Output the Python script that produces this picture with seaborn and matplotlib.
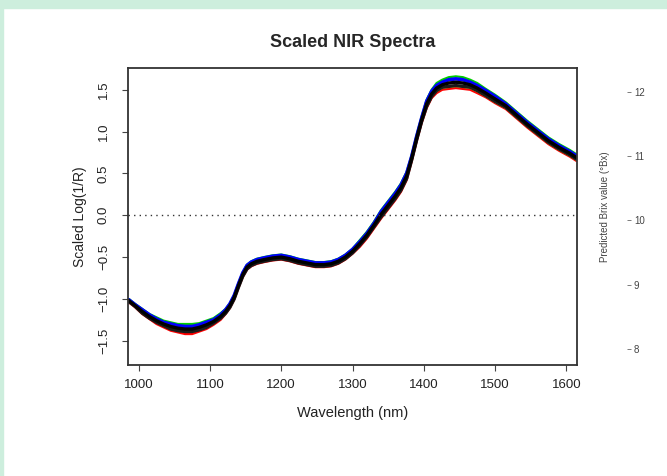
import matplotlib
matplotlib.use("Agg")
import numpy as np
import pandas as pd
import matplotlib.pyplot as plt
import seaborn as sns
from matplotlib.patches import Rectangle

# wavelengths (nm) and a few scaled spectra
wavelength = [986, 995, 1005, 1015, 1025, 1035, 1045, 1055, 1065, 1075,
              1085, 1095, 1105, 1115, 1122, 1128, 1134, 1140, 1146, 1152,
              1158, 1166, 1176, 1188, 1200, 1212, 1224, 1236, 1248, 1260,
              1270, 1280, 1290, 1300, 1310, 1320, 1330, 1340, 1350, 1360,
              1368, 1376, 1383, 1390, 1397, 1404, 1411, 1418, 1426, 1435,
              1445, 1455, 1465, 1475, 1487, 1500, 1515, 1530, 1545, 1560,
              1575, 1590, 1605, 1614]

spec_upper = [-1.00, -1.06, -1.12, -1.18, -1.22, -1.26, -1.28, -1.30, -1.30, -1.30,
              -1.29, -1.26, -1.23, -1.17, -1.12, -1.05, -0.95, -0.81, -0.68, -0.59,
              -0.55, -0.52, -0.50, -0.48, -0.47, -0.49, -0.52, -0.54, -0.56, -0.56,
              -0.55, -0.52, -0.47, -0.40, -0.30, -0.20, -0.08, 0.06, 0.17, 0.28,
              0.38, 0.52, 0.72, 0.96, 1.18, 1.38, 1.50, 1.58, 1.62, 1.65,
              1.66, 1.65, 1.62, 1.58, 1.51, 1.44, 1.35, 1.24, 1.13, 1.03,
              0.93, 0.85, 0.78, 0.73]
spec_lower = [-1.04, -1.10, -1.18, -1.24, -1.30, -1.34, -1.38, -1.40, -1.42, -1.42,
              -1.39, -1.36, -1.31, -1.25, -1.18, -1.11, -1.01, -0.87, -0.74, -0.65,
              -0.61, -0.58, -0.56, -0.54, -0.53, -0.55, -0.58, -0.60, -0.62, -0.62,
              -0.61, -0.58, -0.53, -0.46, -0.38, -0.28, -0.16, -0.04, 0.07, 0.18,
              0.28, 0.42, 0.64, 0.88, 1.10, 1.28, 1.40, 1.46, 1.50, 1.51,
              1.52, 1.51, 1.50, 1.46, 1.41, 1.34, 1.27, 1.16, 1.05, 0.95,
              0.85, 0.77, 0.70, 0.65]
spec_cross = [-1.01, -1.07, -1.13, -1.19, -1.24, -1.28, -1.30, -1.32, -1.33, -1.33,
              -1.31, -1.28, -1.25, -1.19, -1.13, -1.06, -0.96, -0.82, -0.69, -0.60,
              -0.57, -0.54, -0.52, -0.50, -0.49, -0.51, -0.54, -0.56, -0.58, -0.58,
              -0.58, -0.56, -0.51, -0.44, -0.36, -0.26, -0.14, -0.02, 0.09, 0.20,
              0.30, 0.44, 0.66, 0.90, 1.12, 1.30, 1.42, 1.48, 1.52, 1.53,
              1.54, 1.53, 1.52, 1.48, 1.42, 1.35, 1.28, 1.17, 1.06, 0.96,
              0.86, 0.78, 0.71, 0.66]
spec_mid_up = [-1.01, -1.07, -1.13, -1.19, -1.24, -1.28, -1.30, -1.32, -1.33, -1.33,
               -1.31, -1.28, -1.25, -1.19, -1.13, -1.06, -0.96, -0.82, -0.69, -0.60,
               -0.56, -0.53, -0.51, -0.49, -0.48, -0.50, -0.53, -0.55, -0.57, -0.57,
               -0.56, -0.53, -0.48, -0.41, -0.32, -0.22, -0.10, 0.04, 0.15, 0.26,
               0.36, 0.50, 0.70, 0.94, 1.16, 1.36, 1.48, 1.55, 1.59, 1.62,
               1.63, 1.62, 1.59, 1.55, 1.49, 1.42, 1.33, 1.22, 1.11, 1.01,
               0.91, 0.83, 0.76, 0.71]
spec_mid_low = [-1.03, -1.09, -1.17, -1.23, -1.28, -1.32, -1.36, -1.38, -1.39, -1.39,
                -1.37, -1.34, -1.29, -1.23, -1.17, -1.10, -1.00, -0.86, -0.73, -0.64,
                -0.60, -0.57, -0.55, -0.53, -0.52, -0.54, -0.57, -0.59, -0.61, -0.61,
                -0.60, -0.57, -0.52, -0.45, -0.36, -0.26, -0.14, -0.02, 0.09, 0.20,
                0.30, 0.44, 0.66, 0.90, 1.12, 1.30, 1.42, 1.49, 1.53, 1.54,
                1.55, 1.54, 1.53, 1.49, 1.43, 1.36, 1.29, 1.18, 1.07, 0.97,
                0.87, 0.79, 0.72, 0.67]
spec_center = [-1.02, -1.08, -1.15, -1.21, -1.26, -1.30, -1.33, -1.35, -1.36, -1.36,
               -1.34, -1.31, -1.27, -1.21, -1.15, -1.08, -0.98, -0.84, -0.71, -0.62,
               -0.58, -0.55, -0.53, -0.51, -0.50, -0.52, -0.55, -0.57, -0.59, -0.59,
               -0.58, -0.55, -0.50, -0.43, -0.34, -0.24, -0.12, 0.01, 0.12, 0.23,
               0.33, 0.47, 0.68, 0.92, 1.14, 1.33, 1.45, 1.52, 1.56, 1.58,
               1.59, 1.58, 1.56, 1.52, 1.46, 1.39, 1.31, 1.20, 1.09, 0.99,
               0.89, 0.81, 0.74, 0.69]

samples = {"upper": spec_upper, "lower": spec_lower, "cross": spec_cross,
           "mid_up": spec_mid_up, "mid_low": spec_mid_low, "center": spec_center}
# R default palette colours, drawn in this order
order = ["lower", "upper", "cross", "mid_up", "mid_low", "center"]
colors = {"lower": "#ff0000", "upper": "#00cd00", "cross": "#e0d000",
          "mid_up": "#0000ff", "mid_low": "#1a1a1a", "center": "#000000"}
widths = {"lower": 1.6, "upper": 1.6, "cross": 1.2, "mid_up": 2.6,
          "mid_low": 2.4, "center": 2.4}

brix_ticks = [8, 9, 10, 11, 12]

rows = []
for name, vals in samples.items():
    for w, v in zip(wavelength, vals):
        rows.append((name, w, v))
df = pd.DataFrame(rows, columns=["sample", "wavelength", "value"])

sns.set_style("ticks")
plt.rcParams["font.family"] = ["Liberation Sans", "DejaVu Sans"]

fig = plt.figure(figsize=(6.67, 4.76), dpi=100)
fig.patch.set_facecolor("white")
fig.add_artist(Rectangle((0, 1 - 8 / 476), 1, 8 / 476, transform=fig.transFigure,
                         color="#cdeedd", zorder=0))
fig.add_artist(Rectangle((0, 0), 3 / 667, 1, transform=fig.transFigure,
                         color="#cdeedd", zorder=0))

ax = fig.add_axes([128 / 667, 1 - 365 / 476, 449 / 667, 297 / 476])
for name in order:
    sns.lineplot(data=df[df["sample"] == name], x="wavelength", y="value",
                 color=colors[name], lw=widths[name], estimator=None, sort=False, ax=ax)
ax.axhline(0, color="#333333", lw=1, ls=(0, (1, 3)))

ax.set_xlim(985, 1615)
ax.set_ylim(-1.79, 1.76)
ax.set_xticks([1000, 1100, 1200, 1300, 1400, 1500, 1600])
ax.set_yticks([-1.5, -1.0, -0.5, 0.0, 0.5, 1.0, 1.5])
ax.set_yticklabels(["\u22121.5", "\u22121.0", "\u22120.5", "0.0", "0.5", "1.0", "1.5"],
                   rotation=90, va="center")
ax.tick_params(length=4, width=0.8, color="#444444", labelsize=9.5, labelcolor="#222222")
ax.tick_params(axis="x", pad=6)
ax.tick_params(axis="y", pad=9)
for s in ax.spines.values():
    s.set_visible(True)
    s.set_linewidth(1.3)
    s.set_color("#333333")
ax.set_xlabel("Wavelength (nm)", fontsize=10.5, color="#222222", labelpad=11)
ax.set_ylabel("Scaled Log(1/R)", fontsize=10, color="#222222", labelpad=8)
ax.set_title("Scaled NIR Spectra", fontsize=13, fontweight="bold", pad=15)

ax2 = ax.twinx()
ax2.set_ylim(7.75, 12.37)
ax2.set_yticks(brix_ticks)
ax2.set_yticklabels([str(t) for t in brix_ticks], rotation=90, va="center")
ax2.spines["right"].set_position(("outward", 36))
for s in ax2.spines.values():
    s.set_visible(False)
ax2.tick_params(axis="y", length=3, width=0.6, color="#666666", labelsize=7,
                labelcolor="#444444", pad=2)
fig.text(605 / 667, 1 - 207 / 476, "Predicted Brix value (\u00b0Bx)", rotation=90,
         ha="center", va="center", fontsize=7, color="#444444")

fig.savefig("out.png", dpi=100)
